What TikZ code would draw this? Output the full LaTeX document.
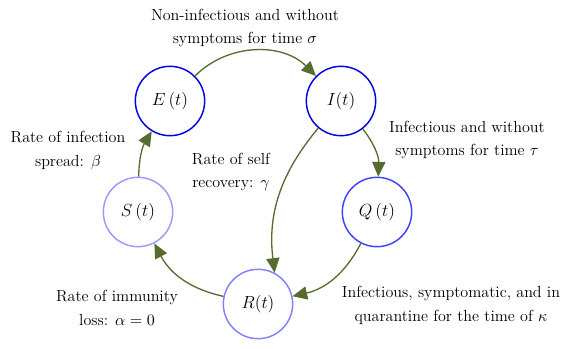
\documentclass[tikz,border=0pt]{standalone}
\usetikzlibrary{arrows.meta}
\definecolor{arrowolive}{RGB}{85,107,47}
\begin{document}
\begin{tikzpicture}[x=0.685pt,y=-0.685pt,
  state/.style={circle,draw,line width=1pt,minimum size=47.5pt,inner sep=0pt,font=\large},
  flow/.style={draw=arrowolive,line width=0.9pt,-{Triangle[length=10pt,width=9pt]}},
  lbl/.style={align=center,font=\fontsize{11}{16.4}\selectfont}]
\useasboundingbox (0,0) rectangle (569,349);
\node[state,draw=blue!90!black] (E) at (170,101) {$E\,(t)$};
\node[state,draw=blue!90!black] (I) at (341,101) {$I(t)$};
\node[state,draw=blue!75] (Q) at (377,212) {$Q\,(t)$};
\node[state,draw=blue!40] (S) at (138,212) {$S\,(t)$};
\node[state,draw=blue!50] (R) at (258,304) {$R(t)$};
\draw[flow] (E) to[bend left=45] (I);
\draw[flow] (I) to[bend left=20] (Q);
\draw[flow] (I.230) to[out=230,in=97] (R.62);
\draw[flow] (Q) to[bend left=25] (R);
\draw[flow] (R) to[bend left=25] (S);
\draw[flow] (S) to[bend left=15] (E);
\node[lbl] (l1) at (245,28) {Non-infectious and without\\symptoms for time $\sigma$};
\node[lbl] (l2) at (467,140) {Infectious and without\\symptoms for time $\tau$};
\node[lbl] (l3) at (451,305) {Infectious, symptomatic, and in\\quarantine for the time of $\kappa$};
\node[lbl] (l4) at (68,150) {Rate of infection\\spread: $\beta$};
\node[lbl] (l5) at (231,172) {Rate of self\\recovery: $\gamma$};
\node[lbl] (l6) at (117,308) {Rate of immunity\\loss: $\alpha=0$};
\end{tikzpicture}
\end{document}
